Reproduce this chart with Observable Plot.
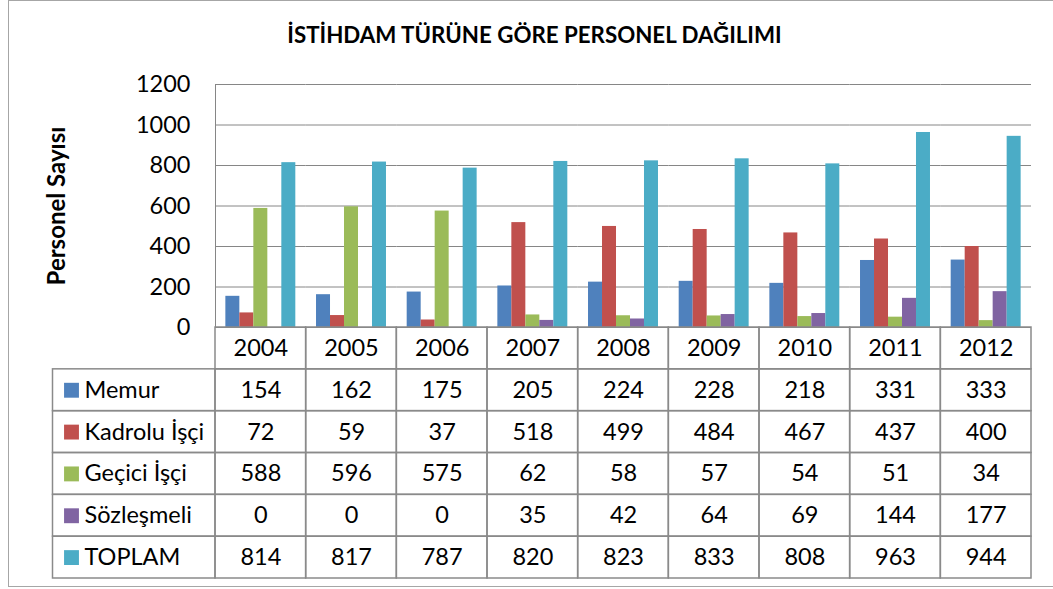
<!DOCTYPE html>
<html><head><meta charset="utf-8">
<script src="https://cdn.jsdelivr.net/npm/d3@7"></script>
<script src="https://cdn.jsdelivr.net/npm/@observablehq/plot@0.6"></script>
<style>
body{margin:0;background:#fff;font-family:Lato,sans-serif;}
#frame{position:absolute;left:8px;top:0;width:1100px;height:587px;border:1px solid #a6a6a6;border-right:none;box-sizing:border-box;}
#wrap{position:absolute;left:0;top:0;width:1053px;}
#title{height:60px;box-sizing:border-box;padding-top:23px;padding-left:16px;text-align:center;font-weight:bold;font-size:22.3px;line-height:24px;color:#000;}
#table{margin-top:-13px;}
svg{background:transparent !important;}
</style></head><body>
<div id="frame"></div>
<div id="wrap"><div id="title">İSTİHDAM TÜRÜNE GÖRE PERSONEL DAĞILIMI</div><div id="chart"></div><div id="table"></div></div>
<script>
const years = ["2004","2005","2006","2007","2008","2009","2010","2011","2012"];
const seriesNames = ["Memur","Kadrolu İşçi","Geçici İşçi","Sözleşmeli","TOPLAM"];
const memur = [154,162,175,205,224,228,218,331,333];
const kadroluIsci = [72,59,37,518,499,484,467,437,400];
const geciciIsci = [588,596,575,62,58,57,54,51,34];
const sozlesmeli = [0,0,0,35,42,64,69,144,177];
const toplam = [814,817,787,820,823,833,808,963,944];
const colors = ["#4F81BD","#C0504D","#9BBB59","#8064A2","#4BACC6"];
const yTicks = [0,200,400,600,800,1000,1200];
const yLabel = "Personel Sayısı";

const seriesValues = [memur, kadroluIsci, geciciIsci, sozlesmeli, toplam];
const barData = [];
years.forEach((yr, i) => seriesNames.forEach((s, j) => barData.push({year: yr, series: s, value: seriesValues[j][i]})));

const W = 1053, ML = 215, MR = 22;
const gridColor = "#868686";
const FS = 23.5;

const chart = Plot.plot({
  width: W, height: 279, marginTop: 24, marginBottom: 12, marginLeft: ML, marginRight: MR,
  style: {fontFamily: "Lato", background: "transparent", overflow: "visible", color: "#000"},
  fx: {domain: years, padding: 0, round: false, axis: null},
  x: {domain: seriesNames, paddingInner: 0, paddingOuter: 0.74, round: false, axis: null},
  y: {domain: [0, 1200]},
  color: {domain: seriesNames, range: colors},
  marks: [
    Plot.gridY(yTicks, {stroke: gridColor, strokeOpacity: 1}),
    Plot.barY(barData, {fx: "year", x: "series", y: "value", fill: "series"}),
    Plot.axisY(yTicks, {tickSize: 0, tickPadding: 25, fontSize: FS, tickFormat: d => String(d), label: null}),
    Plot.frame({anchor: "left", stroke: gridColor, facetAnchor: "left"}),
    Plot.text([yLabel], {text: d => d, frameAnchor: "left", textAnchor: "middle", rotate: -90, dx: -158, fontSize: 24, fontWeight: "bold", facetAnchor: "left"})
  ]
});
document.getElementById("chart").appendChild(chart);

const tableCells = [];
years.forEach(yr => tableCells.push({year: yr, row: "header", label: yr}));
seriesNames.forEach((s, j) => years.forEach((yr, i) => tableCells.push({year: yr, row: s, label: String(seriesValues[j][i])})));

const tableLeft = 52.5;
const table = Plot.plot({
  width: W, height: 261, marginTop: 1, marginBottom: 9, marginLeft: ML, marginRight: MR,
  style: {fontFamily: "Lato", background: "transparent", overflow: "visible", color: "#000"},
  x: {domain: years, padding: 0, round: false, axis: null},
  y: {domain: ["header", ...seriesNames], padding: 0, round: false, axis: null},
  color: {domain: seriesNames, range: colors},
  marks: [
    Plot.cell(tableCells, {x: "year", y: "row", stroke: "#8a8a8a", strokeWidth: 1.5, fill: "none"}),
    Plot.cell(seriesNames, {y: d => d, stroke: "#8a8a8a", strokeWidth: 1.5, fill: "none", insetLeft: -(ML - tableLeft), insetRight: W - ML - MR}),
    Plot.text(tableCells, {x: "year", y: "row", text: "label", fontSize: FS}),
    Plot.dot(seriesNames, {y: d => d, frameAnchor: "left", dx: -144, symbol: "square", r: 8.4, fill: d => d, stroke: null}),
    Plot.text(seriesNames, {y: d => d, text: d => d, frameAnchor: "left", textAnchor: "start", dx: -131, fontSize: FS})
  ]
});
document.getElementById("table").appendChild(table);
</script>
</body></html>
